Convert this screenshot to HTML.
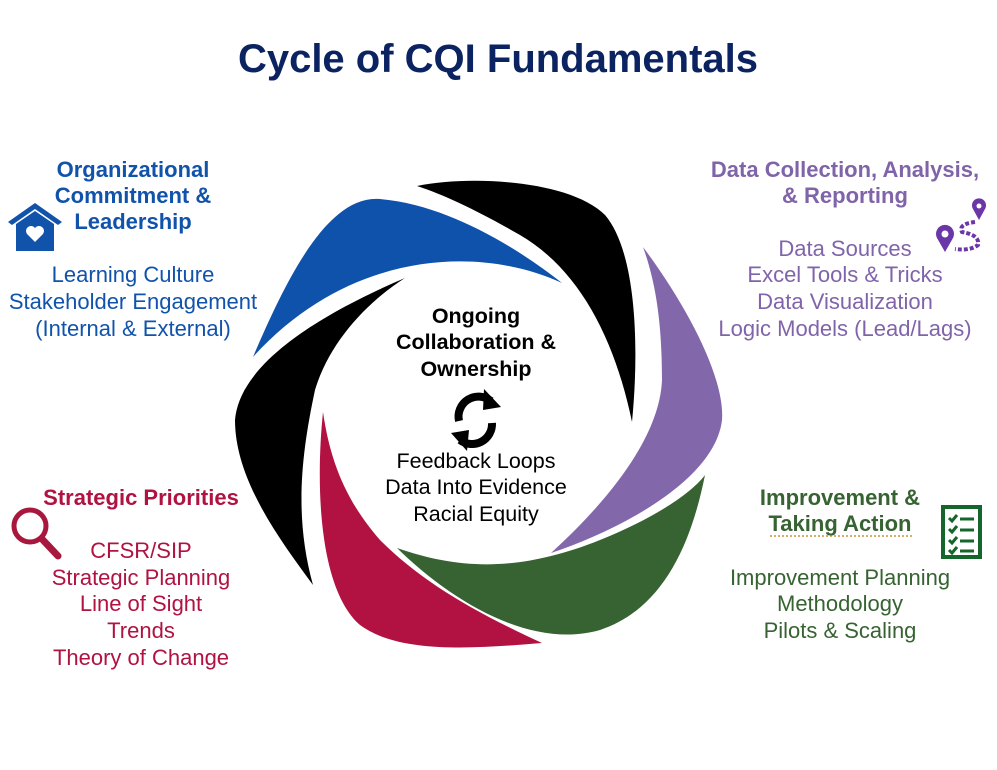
<!DOCTYPE html>
<html><head><meta charset="utf-8"><style>
body{margin:0;background:#fff;}
svg{display:block;font-family:"Liberation Sans",Arial,sans-serif;}
</style></head><body>
<svg width="997" height="770" viewBox="0 0 997 770" xmlns="http://www.w3.org/2000/svg">
<text x="498" y="72" text-anchor="middle" font-size="40" font-weight="bold" fill="#0b2461">Cycle of CQI Fundamentals</text>

<!-- blades -->
<path d="M253,357 C290,270 330,195 380,199 C450,205 520,250 562,283 C480,245 350,250 253,357Z" fill="#0f52ab"/>
<path d="M417,186 C470,175 570,180 605,215 C635,250 640,340 632,422 C615,340 580,270 520,235 C480,212 445,195 417,186Z" fill="#000"/>
<path d="M643,247 C690,310 725,380 722,420 C715,480 620,530 551,553 C620,490 660,430 662,380 C662,320 655,280 643,247Z" fill="#8367ab"/>
<path d="M705,475 C690,550 660,610 600,630 C530,650 450,600 397,548 C460,570 520,572 600,540 C650,520 690,495 705,475Z" fill="#376332"/>
<path d="M323,412 C315,490 320,590 360,625 C400,655 480,648 542,643 C470,610 420,580 380,540 C345,500 330,460 323,412Z" fill="#b11241"/>
<path d="M405,278 C330,310 240,360 235,420 C235,480 280,540 313,585 C295,520 300,460 315,390 C330,340 370,300 405,278Z" fill="#000"/>

<!-- center -->
<g font-size="21.5" text-anchor="middle" fill="#000">
<text x="476" y="323" font-weight="bold">Ongoing</text>
<text x="476" y="349" font-weight="bold">Collaboration &amp;</text>
<text x="476" y="376" font-weight="bold">Ownership</text>
<text x="476" y="468">Feedback Loops</text>
<text x="476" y="494">Data Into Evidence</text>
<text x="476" y="521">Racial Equity</text>
</g>
<g fill="none" stroke="#000" stroke-width="8">
<path d="M459,421 A20,20 0 0 1 491,401"/>
<path d="M492,423 A20,20 0 0 1 460,440"/>
</g>
<path d="M484,389 L501,407 L483,410Z" fill="#000"/>
<path d="M467,451 L451,433 L469,430Z" fill="#000"/>

<!-- blue -->
<g fill="#1153ab" text-anchor="middle" font-size="22">
<text x="133" y="177" font-weight="bold">Organizational</text>
<text x="133" y="203" font-weight="bold">Commitment &amp;</text>
<text x="133" y="229" font-weight="bold">Leadership</text>
<text x="133" y="282">Learning Culture</text>
<text x="133" y="309">Stakeholder Engagement</text>
<text x="133" y="336">(Internal &amp; External)</text>
</g>
<path d="M8,222 L35,203 L62,222 L58,225 L35,209 L12,225Z" fill="#1153ab"/>
<path d="M16,224 L35,211 L54,224 L54,251 L16,251Z" fill="#1153ab"/>
<path d="M35,242 L27,234 A4.5,4.5 0 0 1 35,228 A4.5,4.5 0 0 1 43,234Z" fill="#fff"/>

<!-- purple -->
<g fill="#8064a9" text-anchor="middle" font-size="22">
<text x="845" y="177" font-weight="bold">Data Collection, Analysis,</text>
<text x="845" y="203" font-weight="bold">&amp; Reporting</text>
<text x="845" y="256">Data Sources</text>
<text x="845" y="282">Excel Tools &amp; Tricks</text>
<text x="845" y="309">Data Visualization</text>
<text x="845" y="336">Logic Models (Lead/Lags)</text>
</g>
<g fill="#6a36a8">
<path d="M945,252 L937,238 A9,9 0 1 1 953,238Z"/><circle cx="945" cy="234" r="3.5" fill="#fff"/>
<path d="M979,220 L973,209 A7,7 0 1 1 985,209Z"/><circle cx="979" cy="206" r="2.5" fill="#fff"/>
</g>
<path d="M975,222 Q958,224 962,232 Q980,235 978,245 Q970,251 955,249" fill="none" stroke="#6a36a8" stroke-width="4" stroke-dasharray="4,2"/>

<!-- red -->
<g fill="#b01241" text-anchor="middle" font-size="22">
<text x="141" y="505" font-weight="bold">Strategic Priorities</text>
<text x="141" y="558">CFSR/SIP</text>
<text x="141" y="585">Strategic Planning</text>
<text x="141" y="611">Line of Sight</text>
<text x="141" y="638">Trends</text>
<text x="141" y="665">Theory of Change</text>
</g>
<circle cx="30" cy="526" r="16" fill="none" stroke="#a8173d" stroke-width="5"/>
<line x1="42" y1="539" x2="58" y2="556" stroke="#a8173d" stroke-width="7" stroke-linecap="round"/>

<!-- green -->
<g fill="#376332" text-anchor="middle" font-size="22">
<text x="840" y="505" font-weight="bold">Improvement &amp;</text>
<text x="840" y="531" font-weight="bold">Taking Action</text>
<text x="840" y="585">Improvement Planning</text>
<text x="840" y="611">Methodology</text>
<text x="840" y="638">Pilots &amp; Scaling</text>
</g>
<line x1="770" y1="536" x2="912" y2="536" stroke="#c89040" stroke-width="1.5" stroke-dasharray="2,2"/>
<rect x="943" y="507" width="37" height="50" fill="#fff" stroke="#14662a" stroke-width="4"/>
<g stroke="#14662a" stroke-width="3" fill="none">
<path d="M949,518 l3,3 l5,-6"/><path d="M949,529 l3,3 l5,-6"/><path d="M949,540 l3,3 l5,-6"/><path d="M949,550 l3,3 l5,-6"/>
<line x1="960" y1="519" x2="974" y2="519"/><line x1="960" y1="530" x2="974" y2="530"/><line x1="960" y1="541" x2="974" y2="541"/><line x1="960" y1="551" x2="974" y2="551"/>
</g>
</svg>
</body></html>
